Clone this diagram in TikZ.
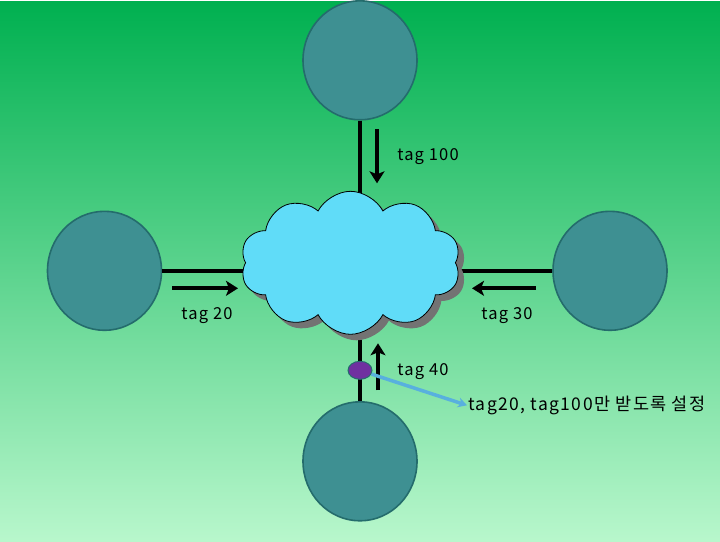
\documentclass[tikz,border=0pt]{standalone}
\usepackage{fontspec}
\setmainfont{Noto Sans CJK KR}
\usetikzlibrary{shapes.geometric,shapes.symbols,arrows.meta,calc}
\definecolor{bgtop}{RGB}{0,176,80}
\definecolor{bgmid}{RGB}{124,236,140}
\definecolor{bgbot}{RGB}{184,247,204}
\definecolor{hostfill}{RGB}{62,144,146}
\definecolor{hostline}{RGB}{36,108,108}
\definecolor{cloudfill}{RGB}{96,220,248}
\definecolor{portfill}{RGB}{112,48,160}
\definecolor{noteline}{RGB}{88,176,222}

\begin{document}
\begin{tikzpicture}[x=1pt,y=-1pt]
  \tikzstyle{host} = [ellipse,draw=hostline,fill=hostfill,line width=1.6pt,minimum width=114pt,minimum height=119pt,inner sep=0pt]
  \tikzstyle{net} = [cloud,cloud puffs=10,cloud puff arc=125,aspect=1.55,minimum width=220pt,minimum height=143pt,inner sep=0pt]
  \tikzstyle{link} = [line width=4pt]
  \tikzstyle{flow} = [line width=4pt,-{Stealth[length=12pt,width=15pt,inset=3pt]}]
  \tikzstyle{tag} = [font=\fontsize{16.5}{18}\selectfont\addfontfeatures{LetterSpace=7}]
  % background
  \shade[top color=bgtop,middle color=bgmid,bottom color=bgbot] (0,0) rectangle (720,540);
  % hosts
  \node[host] (top) at (360,59) {};
  \node[host] (left) at (104.5,269.5) {};
  \node[host] (right) at (610,269.5) {};
  \node[host] (bottom) at (360,460) {};
  \coordinate (hub) at (350.5,261.5);
  \draw[link] (top) -- (top |- hub);
  \draw[link] (left) -- (left -| hub);
  \draw[link] (right) -- (right -| hub);
  \draw[link] (bottom) -- (bottom |- hub);
  % cloud with shadow
  \node[net,fill=gray!90!black] (shade) at ($(hub)+(6,6)$) {};
  \node[net,draw=black,fill=cloudfill,line width=0.8pt] (net) at (hub) {};
  \node[ellipse,draw=hostline,fill=portfill,line width=1pt,minimum width=24pt,minimum height=18pt,inner sep=0pt] (port) at (360,369) {};
  % tag flows
  \draw[flow] (377,128) -- (377,182);
  \draw[flow] (172,287) -- (238,287);
  \draw[flow] (536,287) -- (472,287);
  \draw[flow] (378,389) -- (378,342);
  \node[tag] (t100) at (428,155) {tag 100};
  \node[tag] (t20) at (207,314) {tag 20};
  \node[tag] (t30) at (507,314) {tag 30};
  \node[tag] (t40) at (423,370) {tag 40};
  \node[tag,font=\fontsize{17.5}{19}\selectfont\addfontfeatures{LetterSpace=8},anchor=west,inner sep=1pt] (note) at (467,404) {tag20, tag100만 받도록 설정};
  \draw[line width=3.5pt,noteline,-{Stealth[length=9pt,width=10pt]}] (port) -- (note.west);
\end{tikzpicture}
\end{document}
